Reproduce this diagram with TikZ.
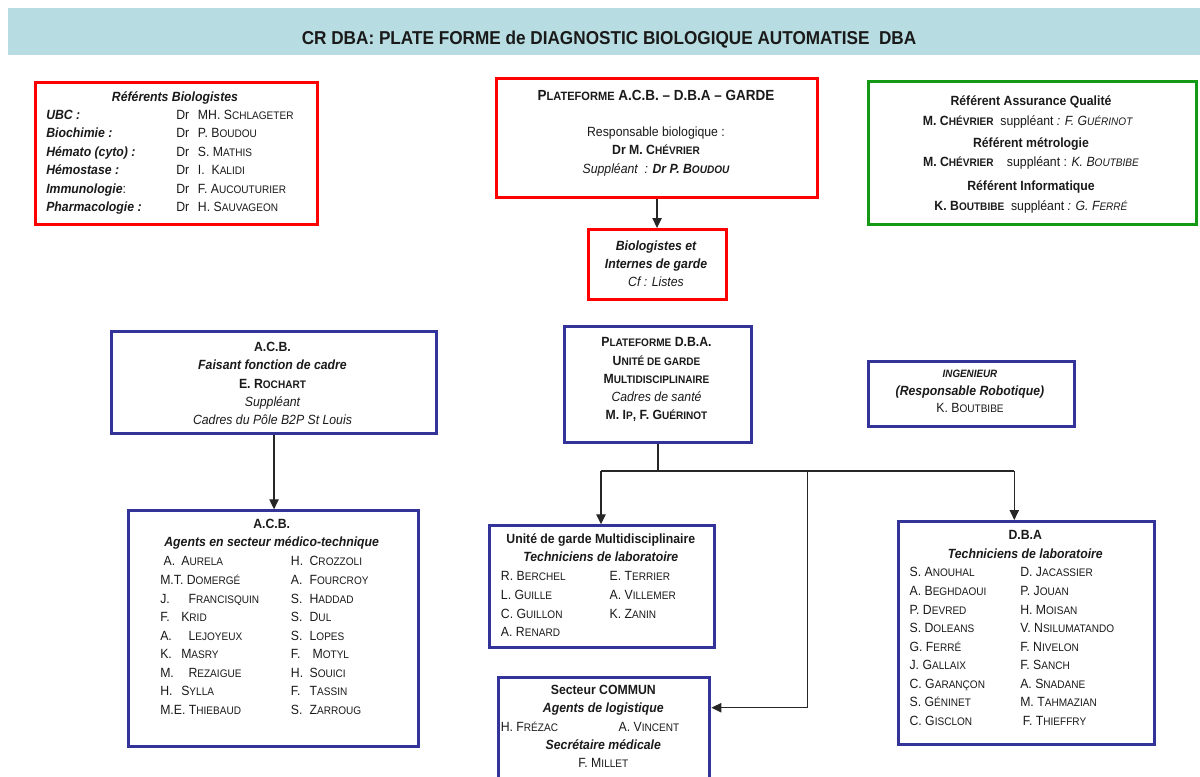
\documentclass[tikz,border=0pt]{standalone}
\usepackage{fontspec}
\setmainfont{Liberation Sans}[FakeStretch=0.92]
\newfontfamily\scfont{Liberation Sans}[FakeStretch=0.92,Scale=0.82]
\newcommand\SC[1]{{\scfont #1}}
\newcommand\nm[3]{\makebox[#1][l]{#2}#3}
\usetikzlibrary{arrows.meta,calc}
\definecolor{barcol}{HTML}{B7DDE2}
\definecolor{boxred}{HTML}{FF0000}
\definecolor{boxblue}{HTML}{333399}
\definecolor{boxgreen}{HTML}{139913}
\definecolor{ink}{HTML}{1A1A1A}
\tikzset{
  frame/.style={draw, line width=2.3pt, fill=white, inner sep=0pt, anchor=north west},
  redbox/.style={frame, draw=boxred},
  bluebox/.style={frame, draw=boxblue},
  greenbox/.style={frame, draw=boxgreen},
  txt/.style={inner sep=0pt, anchor=base, text=ink, font=\fontsize{10}{13.9}\selectfont},
  col/.style={inner sep=0pt, anchor=north west, align=left, text=ink, font=\fontsize{10}{13.9}\selectfont},
  conn/.style={draw=black!85, line width=1pt, -{Triangle[length=7.5pt,width=7pt]}},
  wire/.style={draw=black!85, line width=1pt}
}
% box from (x1,y1) to (x2,y2), coordinates in pixels
\newcommand\boxat[6]{\node[#2, minimum width={(#5-#3)*0.75pt}, minimum height={(#6-#4)*0.75pt}] (#1) at (#3,#4) {};}
% column of lines whose first baseline lies at y
\newcommand\colat[4]{\node[col] (#1) at (#2,{#3-12.97}) {\strut #4};}
\begin{document}
\begin{tikzpicture}[x=0.75pt,y=-0.75pt]
\useasboundingbox (0,0) rectangle (1200,776);
\clip (0,0) rectangle (1200,776);

% title bar
\node[fill=barcol, anchor=north west, inner sep=0pt, minimum width={1192*0.75pt}, minimum height={47*0.75pt}] (bar) at (8,8) {};
\node[txt, font=\fontsize{14}{16}\selectfont\bfseries] (title) at (609,44.5) {CR DBA: PLATE FORME de DIAGNOSTIC BIOLOGIQUE AUTOMATISE\ \ DBA};

% referents biologistes
\boxat{refbio}{redbox}{34}{81}{316}{223}
\node[txt, font=\fontsize{10}{13.9}\selectfont\bfseries\itshape] (refbio-h) at (175,101) {Référents Biologistes};
\colat{refbio-l}{46}{119}{\bfseries\itshape UBC :\\ \bfseries\itshape Biochimie :\\ \bfseries\itshape Hémato (cyto) :\\ \bfseries\itshape Hémostase :\\ \bfseries\itshape Immunologie\mdseries\upshape :\\ \bfseries\itshape Pharmacologie :}
\colat{refbio-d}{176}{119}{Dr\\ Dr\\ Dr\\ Dr\\ Dr\\ Dr}
\colat{refbio-n}{197.7}{119}{MH. S\SC{CHLAGETER}\\ P. B\SC{OUDOU}\\ S. M\SC{ATHIS}\\ I.\ \ K\SC{ALIDI}\\ F. A\SC{UCOUTURIER}\\ H. S\SC{AUVAGEON}}

% plateforme garde
\boxat{garde}{redbox}{495}{77}{816}{196}
\node[txt, font=\fontsize{11}{13.9}\selectfont\bfseries] (garde-h) at (656,100.7) {P\SC{LATEFORME} A.C.B. -- D.B.A -- GARDE};
\node[txt] (garde-1) at (656,136.7) {Responsable biologique :};
\node[txt, font=\fontsize{10}{13.9}\selectfont\bfseries] (garde-2) at (656,154.3) {Dr M. C\SC{HÉVRIER}};
\node[txt, font=\fontsize{10}{13.9}\selectfont\itshape] (garde-3) at (656,173.3) {Suppléant\ \ : \textbf{Dr P. B\SC{OUDOU}}};

% referents qualite
\boxat{qual}{greenbox}{867}{80}{1195}{223}
\node[txt, font=\fontsize{10}{13.9}\selectfont\bfseries] (qual-1) at (1031,105) {Référent Assurance Qualité};
\node[txt] (qual-2) at (1028,125) {\textbf{M. C\SC{HÉVRIER}}\ \ suppléant \textit{: F. G\SC{UÉRINOT}}};
\node[txt, font=\fontsize{10}{13.9}\selectfont\bfseries] (qual-3) at (1031,147.3) {Référent métrologie};
\node[txt] (qual-4) at (1031,166.7) {\textbf{M. C\SC{HÉVRIER}}\quad suppléant : \textit{K. B\SC{OUTBIBE}}};
\node[txt, font=\fontsize{10}{13.9}\selectfont\bfseries] (qual-5) at (1031,190.7) {Référent Informatique};
\node[txt] (qual-6) at (1031,210) {\textbf{K. B\SC{OUTBIBE}}\ \ suppléant \textit{: G. F\SC{ERRÉ}}};

% biologistes de garde
\boxat{bioint}{redbox}{586.7}{228}{725}{298}
\node[txt, font=\fontsize{10}{13.9}\selectfont\bfseries\itshape] (bioint-1) at (656,250) {Biologistes et};
\node[txt, font=\fontsize{10}{13.9}\selectfont\bfseries\itshape] (bioint-2) at (656,268.3) {Internes de garde};
\node[txt, font=\fontsize{10}{13.9}\selectfont\itshape] (bioint-3) at (656,286.7) {Cf : Listes};

% ACB cadre
\boxat{acb}{bluebox}{110}{330}{435}{431.7}
\node[txt, font=\fontsize{10}{13.9}\selectfont\bfseries] (acb-1) at (272.5,351.7) {A.C.B.};
\node[txt, font=\fontsize{10}{13.9}\selectfont\bfseries\itshape] (acb-2) at (272.5,369.3) {Faisant fonction de cadre};
\node[txt, font=\fontsize{10}{13.9}\selectfont\bfseries] (acb-3) at (272.5,388.3) {E. R\SC{OCHART}};
\node[txt, font=\fontsize{10}{13.9}\selectfont\itshape] (acb-4) at (272.5,406) {Suppléant};
\node[txt, font=\fontsize{10}{13.9}\selectfont\itshape] (acb-5) at (272.5,424) {Cadres du Pôle B2P St Louis};

% plateforme DBA
\boxat{dba}{bluebox}{563}{325}{750}{441}
\node[txt, font=\fontsize{10}{13.9}\selectfont\bfseries] (dba-1) at (656.5,346.7) {P\SC{LATEFORME} D.B.A.};
\node[txt, font=\fontsize{10}{13.9}\selectfont\bfseries] (dba-2) at (656.5,365) {U\SC{NITÉ DE GARDE}};
\node[txt, font=\fontsize{10}{13.9}\selectfont\bfseries] (dba-3) at (656.5,383.3) {M\SC{ULTIDISCIPLINAIRE}};
\node[txt, font=\fontsize{10}{13.9}\selectfont\itshape] (dba-4) at (656.5,401) {Cadres de santé};
\node[txt, font=\fontsize{10}{13.9}\selectfont\bfseries] (dba-5) at (656.5,419) {M. I\SC{P}, F. G\SC{UÉRINOT}};

% ingenieur
\boxat{ing}{bluebox}{867}{360}{1073}{425}
\node[txt, font=\fontsize{8}{10}\selectfont\bfseries\itshape] (ing-1) at (970,377.7) {INGENIEUR};
\node[txt, font=\fontsize{10}{13.9}\selectfont\bfseries\itshape] (ing-2) at (970,395) {(Responsable Robotique)};
\node[txt] (ing-3) at (970,412.3) {K. B\SC{OUTBIBE}};

% ACB agents
\boxat{agents}{bluebox}{126.7}{509.3}{416.7}{745}
\node[txt, font=\fontsize{10}{13.9}\selectfont\bfseries] (agents-1) at (271.7,528.3) {A.C.B.};
\node[txt, font=\fontsize{10}{13.9}\selectfont\bfseries\itshape] (agents-2) at (271.7,546.7) {Agents en secteur médico-technique};
\colat{agents-a}{160}{565.7}{\hspace*{2.5pt}\nm{13.3pt}{A.}{A\SC{URELA}}\\
M.T. D\SC{OMERGÉ}\\
\nm{21.2pt}{J.}{F\SC{RANCISQUIN}}\\
\nm{15.75pt}{F.}{K\SC{RID}}\\
\nm{21.2pt}{A.}{L\SC{EJOYEUX}}\\
\nm{15.75pt}{K.}{M\SC{ASRY}}\\
\nm{21.2pt}{M.}{R\SC{EZAIGUE}}\\
\nm{15.75pt}{H.}{S\SC{YLLA}}\\
M.E. T\SC{HIEBAUD}}
\colat{agents-b}{290.7}{565.7}{\nm{14pt}{H.}{C\SC{ROZZOLI}}\\
\nm{14pt}{A.}{F\SC{OURCROY}}\\
\nm{14pt}{S.}{H\SC{ADDAD}}\\
\nm{14pt}{S.}{D\SC{UL}}\\
\nm{14pt}{S.}{L\SC{OPES}}\\
\nm{16.2pt}{F.}{M\SC{OTYL}}\\
\nm{14pt}{H.}{S\SC{OUICI}}\\
\nm{14pt}{F.}{T\SC{ASSIN}}\\
\nm{14pt}{S.}{Z\SC{ARROUG}}}

% unite de garde
\boxat{ugm}{bluebox}{488.3}{524.3}{713.3}{646}
\node[txt, font=\fontsize{10}{13.9}\selectfont\bfseries] (ugm-1) at (600.8,543.3) {Unité de garde Multidisciplinaire};
\node[txt, font=\fontsize{10}{13.9}\selectfont\bfseries\itshape] (ugm-2) at (600.8,561.7) {Techniciens de laboratoire};
\colat{ugm-a}{500.7}{580.7}{R. B\SC{ERCHEL}\\ L. G\SC{UILLE}\\ C. G\SC{UILLON}\\ A. R\SC{ENARD}}
\colat{ugm-b}{609.3}{580.7}{E. T\SC{ERRIER}\\ A. V\SC{ILLEMER}\\ K. Z\SC{ANIN}}

% DBA techniciens
\boxat{tech}{bluebox}{897.3}{520}{1153.3}{743.3}
\node[txt, font=\fontsize{10}{13.9}\selectfont\bfseries] (tech-1) at (1025.3,539.3) {D.B.A};
\node[txt, font=\fontsize{10}{13.9}\selectfont\bfseries\itshape] (tech-2) at (1025.3,558.3) {Techniciens de laboratoire};
\colat{tech-a}{909.3}{576.7}{S. A\SC{NOUHAL}\\ A. B\SC{EGHDAOUI}\\ P. D\SC{EVRED}\\ S. D\SC{OLEANS}\\ G. F\SC{ERRÉ}\\ J. G\SC{ALLAIX}\\ C. G\SC{ARANÇON}\\ S. G\SC{ÉNINET}\\ C. G\SC{ISCLON}}
\colat{tech-b}{1020}{576.7}{D. J\SC{ACASSIER}\\ P. J\SC{OUAN}\\ H. M\SC{OISAN}\\ V. N\SC{SILUMATANDO}\\ F. N\SC{IVELON}\\ F. S\SC{ANCH}\\ A. S\SC{NADANE}\\ M. T\SC{AHMAZIAN}\\ \hspace*{2pt}F. T\SC{HIEFFRY}}

% secteur commun
\boxat{commun}{bluebox}{497.3}{675.7}{708.3}{800}
\node[txt, font=\fontsize{10}{13.9}\selectfont\bfseries] (commun-1) at (603.3,694.3) {Secteur COMMUN};
\node[txt, font=\fontsize{10}{13.9}\selectfont\bfseries\itshape] (commun-2) at (603.3,712.3) {Agents de logistique};
\node[txt, anchor=base west] (commun-3) at (500.5,731) {H. F\SC{RÉZAC}};
\node[txt, anchor=base west] (commun-4) at (618.3,731) {A. V\SC{INCENT}};
\node[txt, font=\fontsize{10}{13.9}\selectfont\bfseries\itshape] (commun-5) at (603.3,749) {Secrétaire médicale};
\node[txt] (commun-6) at (603.3,767.3) {F. M\SC{ILLET}};

% connectors
\draw[conn] (garde.south) -- (garde.south |- bioint.north);
\draw[conn] (acb.south) -- (acb.south |- agents.north);
\coordinate (bus) at (dba.south |- 0,471);
\coordinate (busleft) at (601,471);
\coordinate (busright) at (1014.3,471);
\coordinate (busmid) at (807.7,471);
\draw[wire] (dba.south) -- (bus);
\draw[wire] (busleft) -- (busright);
\draw[conn] (busleft) -- (busleft |- ugm.north);
\draw[conn] (busright) -- (busright |- tech.north);
\draw[conn] (busmid) |- ($(commun.north east)+(0,32)$);
\end{tikzpicture}
\end{document}
